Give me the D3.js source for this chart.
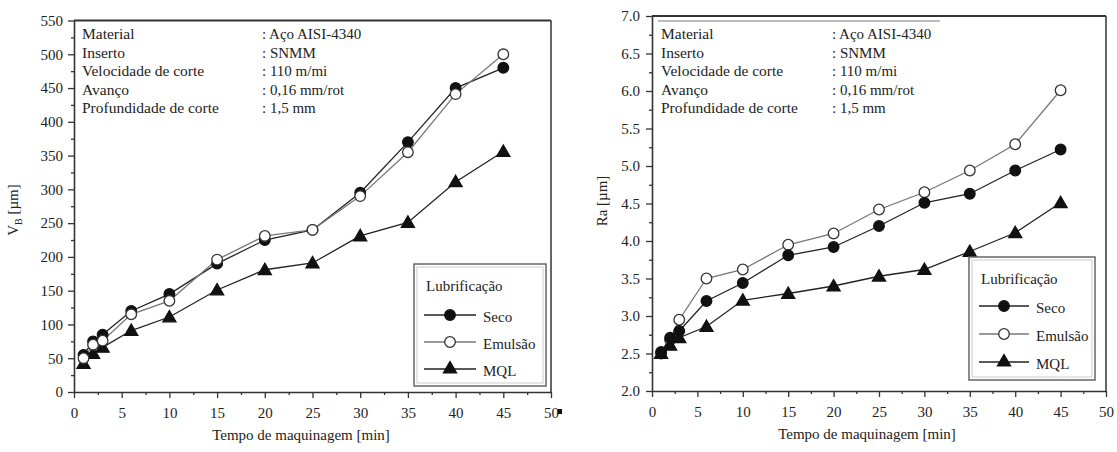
<!DOCTYPE html>
<html>
<head>
<meta charset="utf-8">
<script src="https://cdn.jsdelivr.net/npm/d3@7"></script>
<style>
  html, body { margin: 0; padding: 0; background: #fff; }
  svg { display: block; }
  text { font-family: "Liberation Serif", "Times New Roman", "DejaVu Serif", serif; fill: #222; }
</style>
</head>
<body>
<svg id="chart" width="1117" height="452"></svg>
<script>
// ---------------- DATA ----------------
const times = [1, 2, 3, 6, 10, 15, 20, 25, 30, 35, 40, 45];
const seriesNames = ["Seco", "Emulsão", "MQL"];

const vbSeco    = [55, 75, 85, 120, 145, 190, 225, 240, 295, 370, 450, 480];
const vbEmulsao = [50, 70, 76, 115, 135, 196, 231, 240, 290, 355, 441, 500];
const vbMQL     = [42, 57, 66, 91, 111, 151, 181, 191, 231, 251, 311, 356];

const raSeco    = [2.52, 2.71, 2.8, 3.2, 3.44, 3.81, 3.92, 4.2, 4.51, 4.63, 4.94, 5.22];
const raEmulsao = [2.5, 2.68, 2.95, 3.5, 3.62, 3.95, 4.1, 4.42, 4.65, 4.94, 5.29, 6.01];
const raMQL     = [2.5, 2.61, 2.71, 2.86, 3.21, 3.3, 3.4, 3.53, 3.62, 3.86, 4.11, 4.51];

const xTicks  = [0, 5, 10, 15, 20, 25, 30, 35, 40, 45, 50];
const vbTicks = [0, 50, 100, 150, 200, 250, 300, 350, 400, 450, 500, 550];
const raTicks = [2.0, 2.5, 3.0, 3.5, 4.0, 4.5, 5.0, 5.5, 6.0, 6.5, 7.0];

const infoLabels = ["Material", "Inserto", "Velocidade de corte", "Avanço", "Profundidade de corte"];
const infoValues = [": Aço AISI-4340", ": SNMM", ": 110 m/mi", ": 0,16 mm/rot", ": 1,5 mm"];

const xTitle = "Tempo de maquinagem [min]";
const legendTitle = "Lubrificação";

// ---------------- DRAWING ----------------
const svg = d3.select("#chart");
const FONT = '"Liberation Serif", "Times New Roman", serif';

function drawPanel(cfg) {
  const g = svg.append("g");
  const x = d3.scaleLinear().domain([0, 50]).range([cfg.x0, cfg.x1]);
  const y = d3.scaleLinear().domain(cfg.yDomain).range([cfg.y0, cfg.y1]);

  // top and right frame
  g.append("line").attr("x1", cfg.x0).attr("x2", cfg.x1).attr("y1", cfg.y1).attr("y2", cfg.y1)
    .attr("stroke", "#333").attr("stroke-width", 2);
  g.append("line").attr("x1", cfg.x1).attr("x2", cfg.x1).attr("y1", cfg.y1).attr("y2", cfg.y0)
    .attr("stroke", "#333").attr("stroke-width", 1.5);

  if (cfg.topGrey) {
    g.append("line").attr("x1", cfg.topGrey[0]).attr("x2", cfg.topGrey[1])
      .attr("y1", cfg.y1 + 5).attr("y2", cfg.y1 + 5)
      .attr("stroke", "#bbb").attr("stroke-width", 2);
  }

  // minor ticks
  const xMinor = xTicks.slice(0, -1).map(v => v + 2.5);
  const yStep = cfg.yTicks[1] - cfg.yTicks[0];
  const yMinor = cfg.yTicks.slice(0, -1).map(v => v + yStep / 2);

  g.append("g").attr("transform", `translate(0,${cfg.y0})`)
    .call(d3.axisBottom(x).tickValues(xMinor).tickSize(3).tickFormat(""))
    .call(a => a.select(".domain").remove())
    .call(a => a.selectAll("line").attr("stroke", "#333").attr("stroke-width", 1.3));
  g.append("g").attr("transform", `translate(${cfg.x0},0)`)
    .call(d3.axisLeft(y).tickValues(yMinor).tickSize(3).tickFormat(""))
    .call(a => a.select(".domain").remove())
    .call(a => a.selectAll("line").attr("stroke", "#333").attr("stroke-width", 1.3));

  // major axes
  const xa = g.append("g").attr("transform", `translate(0,${cfg.y0})`)
    .call(d3.axisBottom(x).tickValues(xTicks).tickSize(6).tickSizeOuter(0).tickPadding(9).tickFormat(d3.format("d")));
  const ya = g.append("g").attr("transform", `translate(${cfg.x0},0)`)
    .call(d3.axisLeft(y).tickValues(cfg.yTicks).tickSize(6).tickSizeOuter(0).tickPadding(cfg.yPad).tickFormat(cfg.yFormat));
  [xa, ya].forEach(a => {
    a.attr("font-family", FONT);
    a.select(".domain").attr("stroke", "#333").attr("stroke-width", 1.6);
    a.selectAll(".tick line").attr("stroke", "#333").attr("stroke-width", 1.3);
    a.selectAll("text").style("font-family", FONT).style("font-size", "15px").attr("fill", "#222");
  });

  // axis titles
  g.append("text").attr("x", cfg.xTitleX).attr("y", cfg.y0 + 48)
    .attr("text-anchor", "middle").style("font-size", "15px").text(xTitle);
  const yt = g.append("text")
    .attr("transform", `translate(${cfg.yTitleX},${cfg.yTitleY}) rotate(-90)`)
    .attr("text-anchor", "middle").style("font-size", "15px");
  yt.append("tspan").text(cfg.yTitle[0]);
  if (cfg.yTitle[1]) yt.append("tspan").attr("dy", 4).style("font-size", "10px").text(cfg.yTitle[1]);
  yt.append("tspan").attr("dy", cfg.yTitle[1] ? -4 : 0).text(cfg.yTitle[2]);

  // info text block
  infoLabels.forEach((t, i) => {
    g.append("text").attr("x", cfg.infoX).attr("y", 39 + i * 18.5).style("font-size", "15.5px").text(t);
    g.append("text").attr("x", cfg.infoColX).attr("y", 39 + i * 18.5).style("font-size", "15px").text(infoValues[i]);
  });

  // series
  const styles = [
    { fill: "#111", stroke: "#111", line: "#222", sym: "circle" },
    { fill: "#fff", stroke: "#333", line: "#777", sym: "circle" },
    { fill: "#111", stroke: "#111", line: "#222", sym: "triangle" }
  ];
  const line = d3.line().x((d, i) => x(times[i])).y(d => y(d));
  const sym = {
    circle: d3.symbol().type(d3.symbolCircle).size(88),
    triangle: d3.symbol().type(d3.symbolTriangle).size(74)
  };
  cfg.order.forEach(k => {
    g.append("path").datum(cfg.series[k]).attr("d", line)
      .attr("fill", "none").attr("stroke", styles[k].line).attr("stroke-width", 1.3);
  });
  cfg.order.forEach(k => {
    g.append("g").selectAll("path").data(cfg.series[k]).join("path")
      .attr("transform", (d, i) => `translate(${x(times[i])},${y(d) + (styles[k].sym === "triangle" ? 1 : 0)})`)
      .attr("d", sym[styles[k].sym])
      .attr("fill", styles[k].fill).attr("stroke", styles[k].stroke).attr("stroke-width", 1.3);
  });

  // legend
  const L = cfg.legend;
  g.append("rect").attr("x", L.x).attr("y", L.y).attr("width", L.w).attr("height", L.h)
    .attr("fill", "#fff").attr("stroke", "#666").attr("stroke-width", 1.5);
  g.append("rect").attr("x", L.x + 3).attr("y", L.y + 3).attr("width", L.w - 6).attr("height", L.h - 6)
    .attr("fill", "none").attr("stroke", "#ccc").attr("stroke-width", 1);
  g.append("text").attr("x", L.x + 12).attr("y", L.y + 27).style("font-size", "15px").text(legendTitle);
  seriesNames.forEach((name, k) => {
    const yy = L.y + L.first + k * L.gap;
    g.append("line").attr("x1", L.x + 10).attr("x2", L.x + 10 + L.lineLen).attr("y1", yy).attr("y2", yy)
      .attr("stroke", styles[k].line).attr("stroke-width", 1.3);
    g.append("path").attr("transform", `translate(${L.x + 10 + L.lineLen / 2},${yy})`)
      .attr("d", sym[styles[k].sym])
      .attr("fill", styles[k].fill).attr("stroke", styles[k].stroke).attr("stroke-width", 1.3);
    g.append("text").attr("x", L.x + 10 + L.lineLen + 7).attr("y", yy + 7).style("font-size", "15px").text(name);
  });
}

drawPanel({
  x0: 74, x1: 551, y0: 392, y1: 20.5,
  yDomain: [0, 550], yTicks: vbTicks, yFormat: d3.format("d"), yPad: 5,
  yTitle: ["V", "B", " [µm]"], yTitleX: 18, yTitleY: 210,
  xTitleX: 301,
  infoX: 82, infoColX: 262,
  order: [2, 0, 1],
  series: [vbSeco, vbEmulsao, vbMQL],
  legend: { x: 414, y: 264, w: 132, h: 122, first: 51, gap: 27, lineLen: 52 }
});

drawPanel({
  x0: 652, x1: 1106, y0: 391, y1: 16,
  yDomain: [2, 7], yTicks: raTicks, yFormat: d3.format(".1f"), yPad: 6,
  yTitle: ["Ra", "", " [µm]"], yTitleX: 607, yTitleY: 201,
  xTitleX: 867,
  infoX: 661, infoColX: 832,
  topGrey: [658, 940],
  order: [1, 0, 2],
  series: [raSeco, raEmulsao, raMQL],
  legend: { x: 969, y: 257, w: 126, h: 123, first: 49, gap: 28, lineLen: 50 }
});

// small black mark after the last tick label of the left panel
svg.append("rect").attr("x", 558).attr("y", 409).attr("width", 4).attr("height", 5).attr("fill", "#111");
</script>
</body>
</html>
